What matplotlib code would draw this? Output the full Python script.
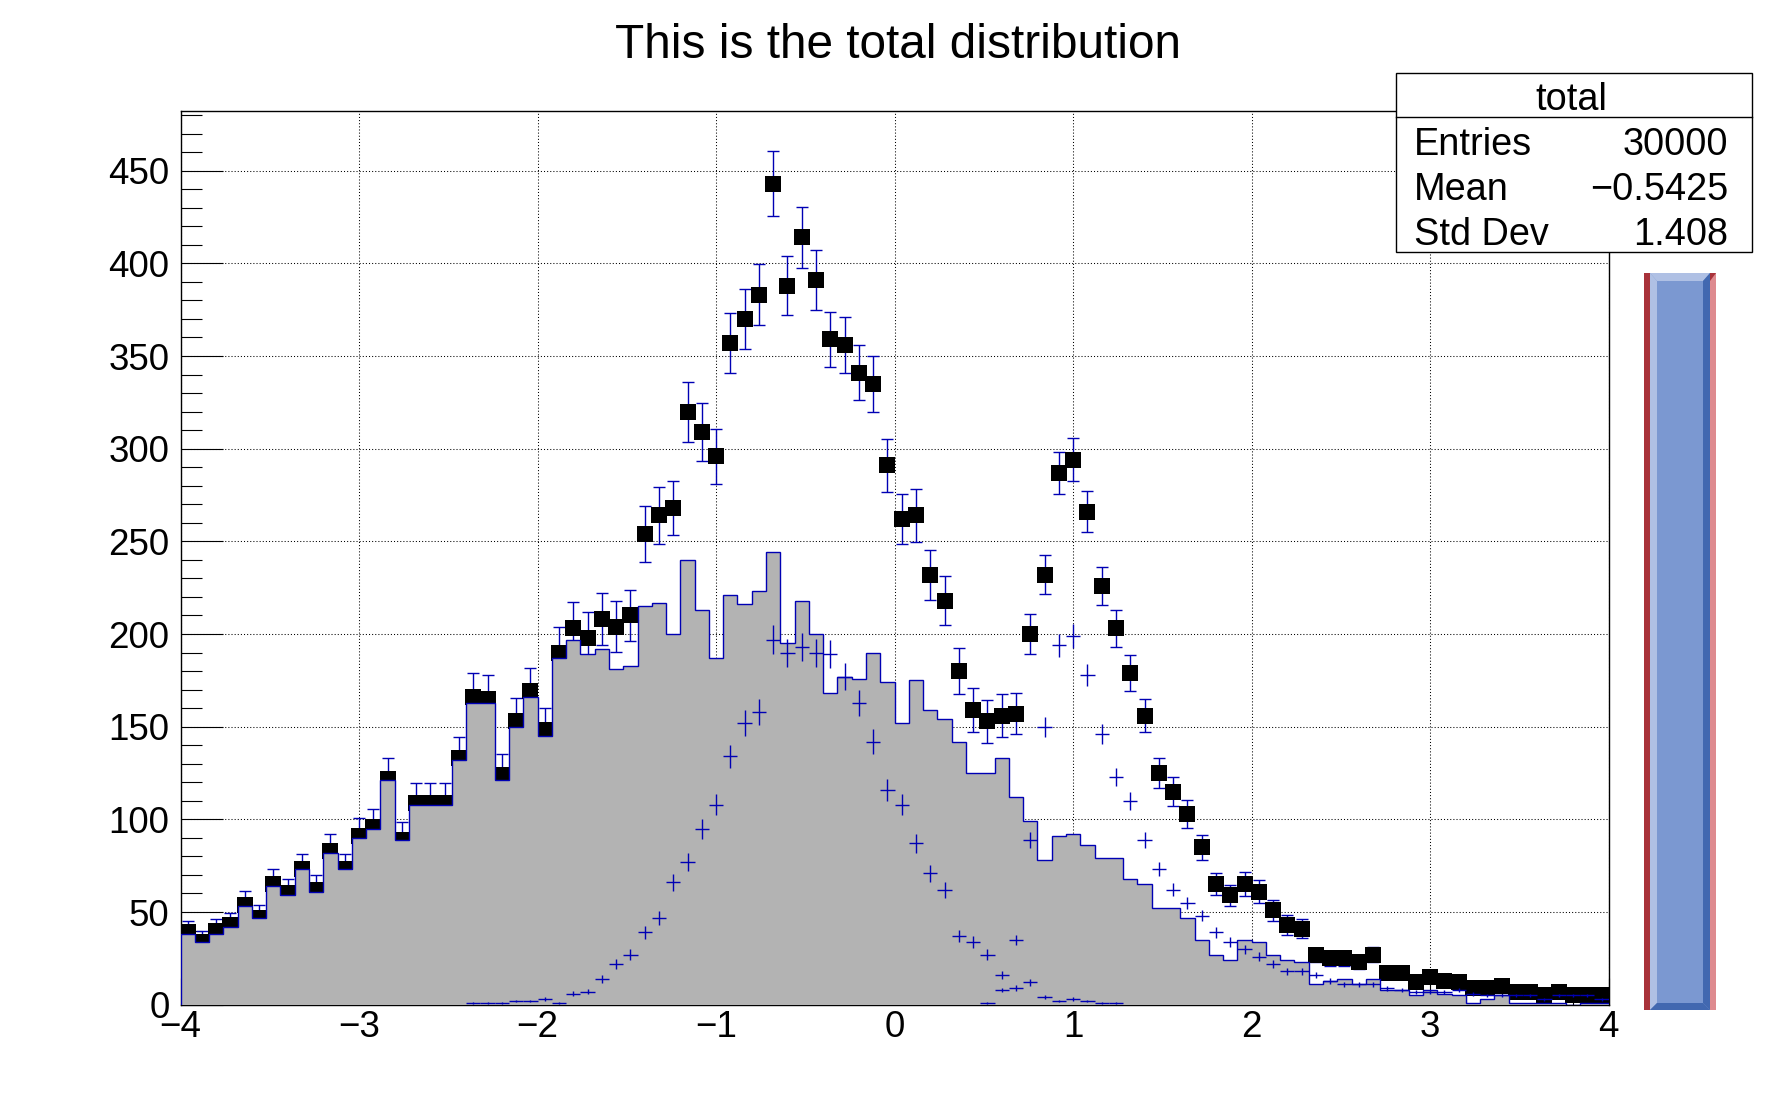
import numpy as np
import matplotlib
matplotlib.use("Agg")
import matplotlib.pyplot as plt
from matplotlib.patches import Rectangle, Polygon
from matplotlib.lines import Line2D
from matplotlib.ticker import MultipleLocator

plt.rcParams['font.family'] = ['Liberation Sans', 'DejaVu Sans']

# ---------------- data ----------------
x_min, x_max, n_bins = -4.0, 4.0, 100

total = [39, 34, 40, 43, 54, 47, 65, 60, 73, 62,
         83, 73, 91, 96, 122, 89, 109, 109, 109, 133,
         166, 165, 124, 153, 169, 148, 190, 203, 198, 208,
         204, 210, 254, 264, 268, 320, 309, 296, 357, 370,
         383, 443, 388, 414, 391, 359, 356, 341, 335, 291,
         262, 264, 232, 218, 180, 159, 153, 156, 157, 200,
         232, 287, 294, 266, 226, 203, 179, 156, 125, 115,
         103, 85, 65, 59, 65, 61, 51, 43, 41, 27,
         25, 25, 23, 27, 17, 17, 12, 15, 13, 12,
         9, 9, 10, 7, 7, 5, 7, 5, 5, 5]

background = [38, 34, 38, 42, 53, 47, 64, 59, 73, 61,
              82, 73, 90, 95, 121, 89, 108, 108, 108, 132,
              163, 163, 121, 150, 166, 145, 187, 197, 189, 192,
              181, 183, 215, 217, 200, 240, 213, 187, 221, 216,
              223, 244, 195, 218, 200, 168, 177, 176, 190, 174,
              152, 175, 159, 154, 142, 125, 125, 133, 112, 99,
              78, 91, 92, 86, 79, 79, 68, 65, 52, 52,
              47, 35, 27, 24, 35, 34, 27, 24, 23, 11,
              13, 14, 11, 14, 8, 8, 5, 8, 6, 5,
              1, 3, 5, 1, 1, 1, 1, 0, 1, 1]

signal1 = [0, 0, 0, 0, 0, 0, 0, 0, 0, 0,
           0, 0, 0, 0, 0, 0, 0, 0, 0, 0,
           1, 1, 1, 2, 2, 3, 1, 6, 7, 14,
           22, 27, 39, 47, 66, 77, 95, 108, 134, 152,
           158, 197, 190, 193, 190, 189, 177, 163, 142, 116,
           108, 87, 71, 62, 37, 34, 27, 16, 9, 12,
           4, 2, 3, 2, 1, 1, 0, 0, 0, 0,
           0, 0, 0, 0, 0, 0, 0, 0, 0, 0,
           0, 0, 0, 0, 0, 0, 0, 0, 0, 0,
           0, 0, 0, 0, 0, 0, 0, 0, 0, 0]

signal2 = [0, 0, 0, 0, 0, 0, 0, 0, 0, 0,
           0, 0, 0, 0, 0, 0, 0, 0, 0, 0,
           0, 0, 0, 0, 0, 0, 0, 0, 0, 0,
           0, 0, 0, 0, 0, 0, 0, 0, 0, 0,
           0, 0, 0, 0, 0, 0, 0, 0, 0, 0,
           0, 0, 0, 0, 0, 0, 1, 8, 35, 89,
           150, 194, 199, 178, 146, 123, 110, 89, 73, 62,
           55, 48, 39, 34, 30, 26, 22, 18, 18, 16,
           13, 11, 11, 11, 9, 8, 7, 7, 7, 8,
           6, 5, 5, 5, 5, 3, 5, 5, 5, 3]

# per-entry weights used for the sum-of-squares error bars
w_background, w_signal1, w_signal2 = 1.0, 0.3, 0.2

x_ticks = [-4, -3, -2, -1, 0, 1, 2, 3, 4]
y_ticks = [0, 50, 100, 150, 200, 250, 300, 350, 400, 450]

title_text = "This is the total distribution"
stats_name = "total"
stats_labels = ["Entries", "Mean", "Std Dev"]
stats_values = ["30000", "\u22120.5425", "1.408"]

# ---------------- figure ----------------
W, H = 1788, 1116
fig = plt.figure(figsize=(W / 100, H / 100), dpi=100)
fig.patch.set_facecolor("white")

def fx(px):
    return px / W

def fy(py):
    return 1 - py / H

L, R, T, B = 180.5, 1608.7, 111.0, 1004.7
ax = fig.add_axes([fx(L), fy(B), fx(R - L), (B - T) / H])

BLUE = "#0000b4"
GRAY = "#b3b3b3"

edges = np.linspace(x_min, x_max, n_bins + 1)
centers = 0.5 * (edges[:-1] + edges[1:])
half_w = 0.5 * (edges[1] - edges[0])

tot = np.array(total, float)
bkg = np.array(background, float)
s1 = np.array(signal1, float)
s2 = np.array(signal2, float)

err_tot = np.sqrt(w_background * bkg + w_signal1 * s1 + w_signal2 * s2)

# total: error bars + square markers (drawn first, gray stack covers part)
ax.errorbar(centers, tot, yerr=err_tot, fmt="none", ecolor=BLUE,
            elinewidth=1.0, capsize=4.6, capthick=1.0, zorder=2)
ax.plot(centers, tot, "s", color="black", ms=11.6, mew=0, zorder=2.2)

# background: gray filled histogram with blue outline
ax.stairs(bkg, edges, fill=True, color=GRAY, lw=0, zorder=3)
ax.stairs(bkg, edges, baseline=0, color=BLUE, lw=1.0, zorder=3.2)

# signals: crosses (error bars, no caps)
for s, w in ((s1, w_signal1), (s2, w_signal2)):
    m = s > 0
    ax.errorbar(centers[m], s[m], xerr=half_w, yerr=np.sqrt(w * s[m]),
                fmt="none", ecolor=BLUE, elinewidth=1.0, capsize=0, zorder=4)

ax.set_xlim(x_min, x_max)
ax.set_ylim(0, 482.2)
ax.set_xticks(x_ticks)
ax.set_yticks(y_ticks)
ax.xaxis.set_minor_locator(MultipleLocator(0.2))
ax.yaxis.set_minor_locator(MultipleLocator(10))
ax.grid(True, which="major", color="black", linestyle=(0, (1, 2)), lw=0.75)
ax.set_axisbelow(True)

ax.tick_params(which="both", direction="in", top=False, right=False,
               width=0.8, color="black", labelsize=26.5)
ax.tick_params(axis="y", which="major", length=30, pad=8)
ax.tick_params(axis="y", which="minor", length=15)
ax.tick_params(axis="x", which="major", length=19.5, pad=4)
ax.tick_params(axis="x", which="minor", length=10.6)
for sp in ax.spines.values():
    sp.set_linewidth(1.0)
    sp.set_color("black")

# ---------------- title ----------------
fig.text(fx(898), fy(58), title_text, ha="center", va="baseline",
         fontsize=34.4, color="black")

# ---------------- stats box ----------------
sx0, sx1, sy0, sy1 = 1395.7, 1752.3, 72.7, 252.3
fig.patches.append(Rectangle((fx(sx0), fy(sy1)), fx(sx1 - sx0), (sy1 - sy0) / H,
                             transform=fig.transFigure, facecolor="white",
                             edgecolor="black", lw=1.0, zorder=5))
fig.lines.append(Line2D([fx(sx0), fx(sx1)], [fy(117.3), fy(117.3)],
                        transform=fig.transFigure, color="black", lw=1.0, zorder=6))
fig.text(fx(1571.7), fy(110), stats_name, ha="center", va="baseline",
         fontsize=27.3, zorder=7)
for i, (lab, val) in enumerate(zip(stats_labels, stats_values)):
    yb = 155 + 45 * i
    fig.text(fx(1414), fy(yb), lab, ha="left", va="baseline", fontsize=27.3, zorder=7)
    fig.text(fx(1728.3), fy(yb), val, ha="right", va="baseline", fontsize=27.3, zorder=7)

# ---------------- coloured box on the right ----------------
bx0, bx1, by0, by1 = 1644, 1716, 273, 1010
b = 6     # red border width
bv = 7    # bevel width

def poly(pts, color):
    fig.patches.append(Polygon([(fx(px), fy(py)) for px, py in pts], closed=True,
                               transform=fig.transFigure, facecolor=color,
                               edgecolor="none", zorder=5))

ix0, ix1 = bx0 + b, bx1 - b
poly([(bx0, by0), (ix0, by0), (ix0, by1), (bx0, by1)], "#a8323a")          # left dark red
poly([(ix1, by0), (bx1, by0), (bx1, by1), (ix1, by1)], "#de8a8f")          # right light red
poly([(ix1, by0), (bx1, by0), (ix1, by0 + 8)], "#a8323a")                  # corner
poly([(ix0, by1), (bx0 + 1, by1), (ix0, by1 - 8)], "#a8323a")
poly([(ix0, by0), (ix1, by0), (ix1, by1), (ix0, by1)], "#7b98d1")          # main fill
poly([(ix0, by0), (ix1, by0), (ix1 - bv, by0 + 8), (ix0 + bv, by0 + 8)], "#afc0e4")   # top bevel
poly([(ix0, by0), (ix0 + bv, by0 + 8), (ix0 + bv, by1 - 7), (ix0, by1)], "#afc0e4")   # left bevel
poly([(ix1, by0), (ix1, by1), (ix1 - bv, by1 - 7), (ix1 - bv, by0 + 8)], "#4268b0")   # right bevel
poly([(ix0, by1), (ix1, by1), (ix1 - bv, by1 - 7), (ix0 + bv, by1 - 7)], "#4268b0")   # bottom bevel

fig.savefig("out.png", dpi=100, facecolor="white")
